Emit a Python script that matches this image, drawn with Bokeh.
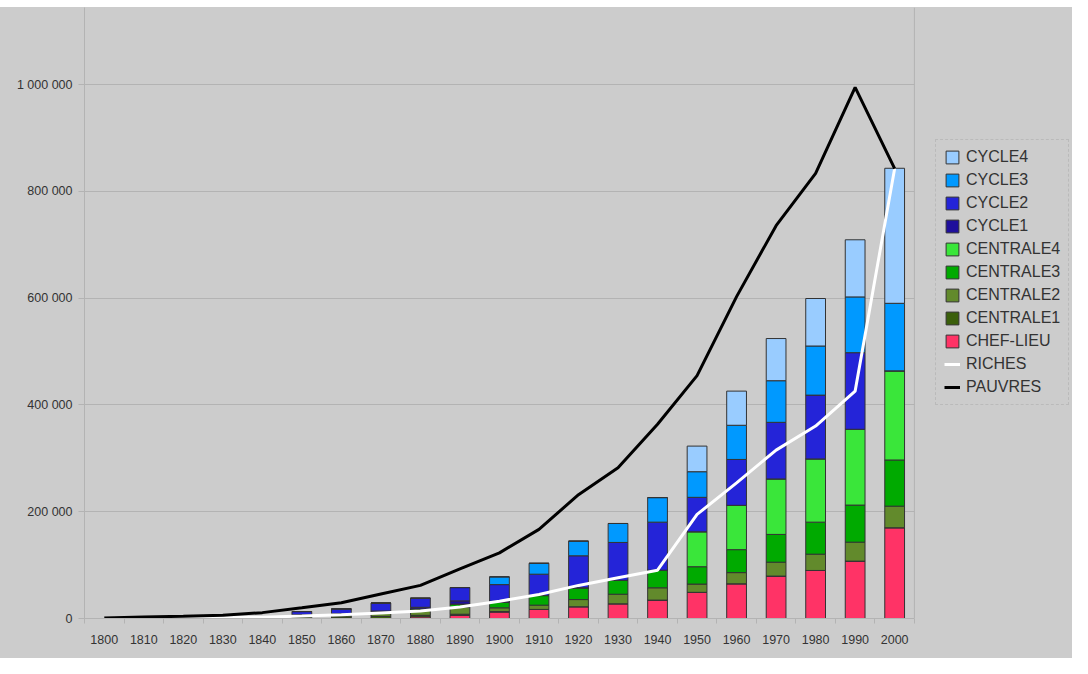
from bokeh.plotting import figure
from bokeh.models import (ColumnDataSource, Legend, LegendItem, FixedTicker, Span,
                          Range1d, CustomJSTickFormatter, BoxAnnotation)
from bokeh.embed import file_html
from bokeh.resources import INLINE

years = [1800, 1810, 1820, 1830, 1840, 1850, 1860, 1870, 1880, 1890, 1900,
         1910, 1920, 1930, 1940, 1950, 1960, 1970, 1980, 1990, 2000]

chef_lieu = [0, 0, 0, 0, 0, 0, 0, 0, 3000, 6000, 12000, 17000, 22000, 27500, 34500,
             49000, 65000, 79500, 90000, 107500, 170000]
centrale1 = [0, 0, 0, 0, 2000, 3000, 3000, 4000, 3000, 2000, 1000, 0, 0, 0, 0,
             0, 0, 0, 0, 0, 0]
centrale2 = [0, 0, 0, 0, 1000, 2000, 4000, 6000, 9000, 13000, 7000, 8000, 13500, 18000, 23000,
             15500, 21000, 26000, 30500, 35500, 40500]
centrale3 = [0, 0, 0, 0, 0, 0, 0, 2000, 3000, 6000, 10500, 18000, 22000, 26000, 33000,
             32500, 43000, 52000, 60000, 69500, 86500]
centrale4 = [0, 0, 0, 0, 0, 0, 0, 0, 0, 0, 0, 0, 0, 0, 0,
             65500, 83000, 104000, 118500, 142000, 167000]
cycle1 = [0, 0, 0, 0, 0, 2000, 2000, 2000, 3000, 6000, 2000, 0, 0, 0, 0,
          0, 0, 0, 0, 0, 0]
cycle2 = [0, 0, 0, 0, 0, 6000, 9000, 15000, 17000, 25000, 31000, 40000, 60000, 71000, 90000,
          64500, 86000, 106000, 119500, 143500, 0]
cycle3 = [0, 0, 0, 0, 0, 0, 0, 0, 0, 0, 14500, 20500, 27500, 35500, 46000,
          48000, 64000, 78000, 92000, 104500, 126500]
cycle4 = [0, 0, 0, 0, 0, 0, 0, 0, 0, 0, 0, 0, 0, 0, 0,
          48000, 64000, 79000, 89000, 107000, 253000]

riches = [0, 0, 500, 1500, 2500, 4500, 7000, 10500, 14000, 21500, 32500, 45000, 62000,
          76500, 90500, 195000, 254000, 315500, 360500, 426000, 843000]
pauvres = [1000, 3000, 4000, 6000, 11000, 20000, 29500, 46000, 62000, 93000, 123000,
           167000, 232000, 282500, 364000, 455000, 603000, 736000, 834000, 995000, 843000]

stack_keys = ["CHEF-LIEU", "CENTRALE1", "CENTRALE2", "CENTRALE3", "CENTRALE4",
              "CYCLE1", "CYCLE2", "CYCLE3", "CYCLE4"]
stack_colors = ["#ff3366", "#3a5f0b", "#628a2c", "#00aa00", "#3ae63a",
                "#1f0f9c", "#2424d8", "#0099ff", "#99ccff"]

source = ColumnDataSource(dict(
    year=years,
    **{"CHEF-LIEU": chef_lieu, "CENTRALE1": centrale1, "CENTRALE2": centrale2,
       "CENTRALE3": centrale3, "CENTRALE4": centrale4, "CYCLE1": cycle1,
       "CYCLE2": cycle2, "CYCLE3": cycle3, "CYCLE4": cycle4},
    riches=riches, pauvres=pauvres,
))

BG = "#cccccc"
GRID = "#b3b3b3"
FONT = "Liberation Sans"

X0, X_PLOT_END, X_END = 1795, 2005, 2045

p = figure(width=1072, height=658, output_backend="svg", toolbar_location=None,
           x_range=Range1d(X0, X_END), y_range=Range1d(0, 1144700),
           min_border_left=84, min_border_right=0, min_border_top=7,
           min_border_bottom=40,
           styles={"background": "linear-gradient(#ffffff 0px, #ffffff 7px, #cccccc 7px, #cccccc 100%)"})
p.background_fill_color = BG
p.border_fill_color = BG
p.border_fill_alpha = 0
p.outline_line_color = None

bars = p.vbar_stack(stack_keys, x="year", width=5, source=source,
                    color=stack_colors, line_color="#333333", line_width=1)

r_riches = p.line("year", "riches", source=source, line_color="white", line_width=3)
r_pauvres = p.line("year", "pauvres", source=source, line_color="black", line_width=3)

# axes
p.xaxis.bounds = (X0, X_PLOT_END)
p.xaxis.ticker = FixedTicker(ticks=years, minor_ticks=[y - 5 for y in years] + [X_PLOT_END])
p.xaxis.major_tick_line_color = None
p.xaxis.minor_tick_line_color = GRID
p.xaxis.minor_tick_out = 5
p.xaxis.minor_tick_in = 0
p.xaxis.axis_line_color = GRID
p.xaxis.major_label_text_font = FONT
p.xaxis.major_label_text_font_size = "12.5px"
p.xaxis.major_label_text_color = "#333333"
p.xaxis.major_label_standoff = 10

p.yaxis.ticker = FixedTicker(ticks=[0, 200000, 400000, 600000, 800000, 1000000])
p.yaxis.formatter = CustomJSTickFormatter(
    code='return Math.round(tick).toString().replace(/\\B(?=(\\d{3})+(?!\\d))/g, " ");')
p.yaxis.major_tick_line_color = GRID
p.yaxis.major_tick_out = 6
p.yaxis.major_tick_in = 0
p.yaxis.minor_tick_line_color = None
p.yaxis.axis_line_color = GRID
p.yaxis.major_label_text_font = FONT
p.yaxis.major_label_text_font_size = "12.5px"
p.yaxis.major_label_text_color = "#333333"
p.yaxis.major_label_standoff = 6

p.xgrid.grid_line_color = None
p.ygrid.grid_line_color = GRID
p.ygrid.grid_line_width = 1

# hide gridlines in the legend area (right of the plot area)
p.add_layout(BoxAnnotation(left=X_PLOT_END, fill_color=BG, fill_alpha=1,
                           line_color=None, line_alpha=0))
p.add_layout(Span(location=X_PLOT_END, dimension="height", line_color=GRID, line_width=1))

by_key = dict(zip(stack_keys, bars))
items = [LegendItem(label=k, renderers=[by_key[k]]) for k in reversed(stack_keys)]
items.append(LegendItem(label="RICHES", renderers=[r_riches]))
items.append(LegendItem(label="PAUVRES", renderers=[r_pauvres]))

legend = Legend(items=items, location=(851, 213), orientation="vertical",
                label_text_font=FONT, label_text_font_size="16px",
                label_text_color="#333333", glyph_width=16, glyph_height=16,
                label_height=16, spacing=5, padding=8, margin=0, label_standoff=6,
                background_fill_color=BG, background_fill_alpha=1,
                border_line_color="#aaaaaa", border_line_dash="2 2")
p.add_layout(legend, "center")

open("out.html", "w").write(file_html(p, INLINE))
